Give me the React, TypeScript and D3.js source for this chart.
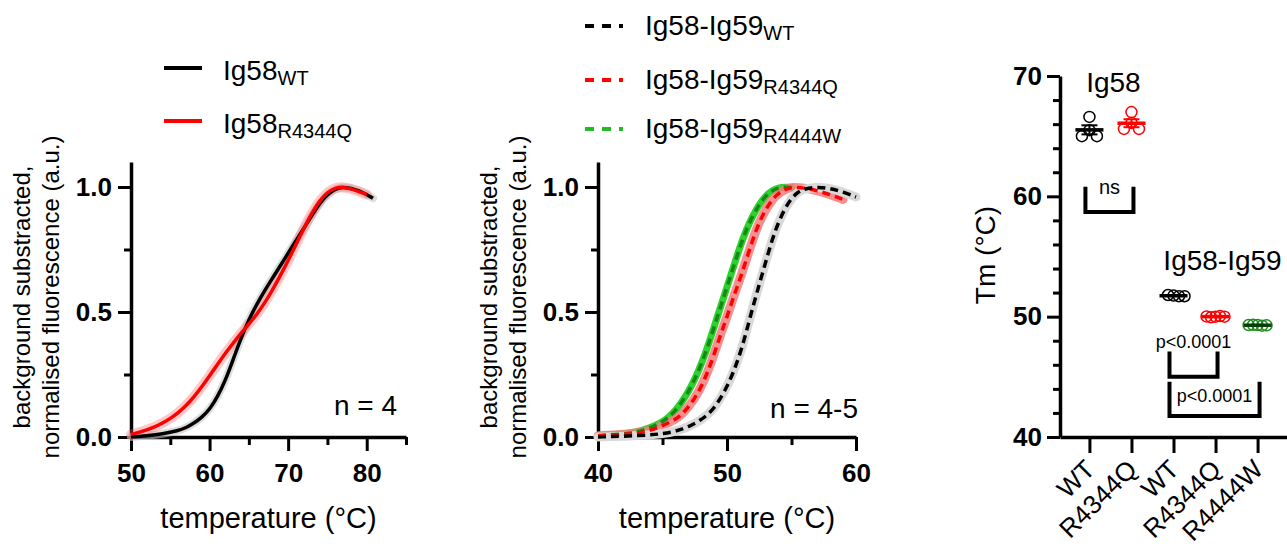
import React, { useRef, useEffect } from 'react';
import * as d3 from 'd3';

const FONT = '"Liberation Sans", Arial, Helvetica, sans-serif';

// Ig58 melt curves (left panel)
const ig58WtTemp = [50, 52, 54, 56, 57, 58, 59, 60, 61, 62, 63, 64, 65, 66, 67, 68, 69, 70, 71, 72, 73, 74, 75, 76, 77, 78, 79, 80, 80.8];
const ig58WtSignal = [0, 0.005, 0.012, 0.025, 0.037, 0.055, 0.078, 0.11, 0.16, 0.225, 0.31, 0.395, 0.47, 0.53, 0.585, 0.635, 0.685, 0.735, 0.785, 0.835, 0.885, 0.935, 0.97, 0.993, 1.0, 0.995, 0.985, 0.97, 0.955];
const ig58MutTemp = [50, 51, 52, 53, 54, 55, 56, 57, 58, 59, 60, 61, 62, 63, 64, 65, 66, 67, 68, 69, 70, 71, 72, 73, 74, 75, 76, 77, 78, 79, 80];
const ig58MutSignal = [0.01, 0.018, 0.028, 0.04, 0.055, 0.074, 0.097, 0.125, 0.16, 0.2, 0.245, 0.29, 0.335, 0.375, 0.415, 0.452, 0.49, 0.535, 0.588, 0.645, 0.705, 0.77, 0.835, 0.895, 0.945, 0.98, 0.997, 1.0, 0.993, 0.982, 0.97];

// Ig58-Ig59 melt curves (middle panel)
const tandemWtTemp = [40, 42, 44, 45, 46, 47, 48, 49, 50, 50.5, 51, 51.5, 52, 52.5, 53, 53.5, 54, 54.5, 55, 55.5, 56, 57, 58, 59, 60];
const tandemWtSignal = [0, 0.003, 0.008, 0.013, 0.022, 0.04, 0.068, 0.11, 0.2, 0.26, 0.33, 0.42, 0.52, 0.61, 0.7, 0.79, 0.86, 0.915, 0.955, 0.98, 0.993, 1.0, 0.995, 0.98, 0.96];
const tandemRqTemp = [40, 42, 43, 44, 45, 46, 46.5, 47, 47.5, 48, 48.5, 49, 49.5, 50, 50.5, 51, 51.5, 52, 52.5, 53, 53.5, 54, 54.5, 55, 56, 57, 58, 59];
const tandemRqSignal = [0.005, 0.01, 0.015, 0.025, 0.045, 0.07, 0.09, 0.12, 0.155, 0.2, 0.26, 0.33, 0.41, 0.48, 0.56, 0.63, 0.71, 0.79, 0.86, 0.91, 0.95, 0.975, 0.99, 1.0, 0.997, 0.985, 0.97, 0.95];
const tandemRwTemp = [40, 42, 43, 44, 45, 45.5, 46, 46.5, 47, 47.5, 48, 48.5, 49, 49.5, 50, 50.5, 51, 51.5, 52, 52.5, 53, 53.5, 54, 54.5, 55];
const tandemRwSignal = [0.005, 0.012, 0.02, 0.035, 0.06, 0.08, 0.105, 0.14, 0.18, 0.23, 0.29, 0.36, 0.44, 0.52, 0.6, 0.68, 0.76, 0.83, 0.885, 0.93, 0.965, 0.985, 0.997, 1.0, 0.998];

// Tm scatter (right panel)
const tmLabels = ['WT', 'R4344Q', 'WT', 'R4344Q', 'R4444W'];
const tmValues = [
  [65.5, 66.6, 65.0, 65.0],
  [66.1, 67.0, 65.6, 65.6],
  [51.75, 51.7, 51.8, 51.7],
  [50.0, 50.05, 49.95, 50.0, 50.02],
  [49.3, 49.25, 49.32, 49.28, 49.3],
];
const bracketPairs = [[0, 1], [2, 3], [2, 4]];
const bracketTop = [60.8, 47.1, 44.6];
const bracketBottom = [58.7, 45.0, 41.75];
const bracketText = ['ns', 'p<0.0001', 'p<0.0001'];
const bracketTextY = [60.2, 47.4, 42.9];

const tmColors = ['#000000', '#ff0000', '#000000', '#ff0000', '#1e8c1e'];
const tmMeanColors = ['#000000', '#ff0000', '#000000', '#ff0000', '#0a3d0a'];
const tmSwarmGap = [9.5, 9.5, 5.5, 4.3, 4.3];

function styleAxis(g: any, bold = true) {
  g.attr('font-family', FONT).attr('font-size', 26);
  g.select('.domain').attr('stroke', '#000').attr('stroke-width', 3.5);
  g.selectAll('.tick line').attr('stroke', '#000').attr('stroke-width', 3);
  g.selectAll('.tick text')
    .attr('fill', '#000')
    .attr('font-weight', bold ? 'bold' : 'normal');
}

function subLabel(parent: any, x: number, y: number, main: string, sub: string) {
  const t = parent.append('text').attr('x', x).attr('y', y).attr('font-size', 28).attr('fill', '#000');
  t.append('tspan').text(main);
  t.append('tspan').attr('font-size', 20).attr('dy', 5).text(sub);
}

function swarm(vals: number[], y: any, gap: number) {
  const placed: { x: number; y: number }[] = [];
  return vals.map((v) => {
    const py = y(v);
    let off = 0;
    for (let k = 0; k < 400; k++) {
      const cand = (k % 2 === 1 ? 1 : -1) * Math.ceil(k / 2) * 0.5;
      if (placed.every((p) => Math.hypot(p.x - cand, p.y - py) >= gap)) { off = cand; break; }
    }
    placed.push({ x: off, y: py });
    return { v, off, py };
  });
}

export default function App() {
  const svgRef = useRef<SVGSVGElement>(null);

  useEffect(() => {
    if (!svgRef.current) return;
    const svg = d3.select(svgRef.current);
    svg.selectAll('*').remove();
    svg.attr('font-family', FONT);

    const ySig = d3.scaleLinear().domain([0, 1.1]).range([437, 162]);

    const panels = [
      {
        x0: 131, x1: 406, domain: [50, 85], major: [50, 60, 70, 80], minor: [55, 65, 75, 85],
        dashed: false, n: 'n = 4', nY: 415, nX: 397,
        series: [
          { temp: ig58WtTemp, signal: ig58WtSignal, color: '#000000', band: '#c8c8c8', bandOpacity: 0.6, bandWidth: 8 },
          { temp: ig58MutTemp, signal: ig58MutSignal, color: '#ff0000', band: '#ff6060', bandOpacity: 0.35, bandWidth: 10 },
        ],
      },
      {
        x0: 598, x1: 856, domain: [40, 60], major: [40, 50, 60], minor: [45, 55],
        dashed: true, n: 'n = 4-5', nY: 418, nX: 858,
        series: [
          { temp: tandemRwTemp, signal: tandemRwSignal, color: '#138a13', band: '#2fd12f', bandOpacity: 1, bandWidth: 7 },
          { temp: tandemRqTemp, signal: tandemRqSignal, color: '#ff0000', band: '#f47c7c', bandOpacity: 0.85, bandWidth: 9 },
          { temp: tandemWtTemp, signal: tandemWtSignal, color: '#000000', band: '#d9d9d9', bandOpacity: 1, bandWidth: 9 },
        ],
      },
    ];

    panels.forEach((p) => {
      const x = d3.scaleLinear().domain(p.domain).range([p.x0, p.x1]);

      const yAxis = svg.append('g').attr('transform', `translate(${p.x0},0)`)
        .call(d3.axisLeft(ySig).tickValues([0, 0.5, 1]).tickSize(13).tickSizeOuter(0).tickPadding(6).tickFormat(d3.format('.1f')));
      styleAxis(yAxis);
      const yMinor = svg.append('g').attr('transform', `translate(${p.x0},0)`)
        .call(d3.axisLeft(ySig).tickValues([0.25, 0.75]).tickSize(7).tickFormat(() => ''));
      yMinor.select('.domain').remove();
      styleAxis(yMinor);

      const xAxis = svg.append('g').attr('transform', 'translate(0,437)')
        .call(d3.axisBottom(x).tickValues(p.major).tickSize(14).tickSizeOuter(0).tickPadding(13).tickFormat(d3.format('d')));
      styleAxis(xAxis);
      const xMinor = svg.append('g').attr('transform', 'translate(0,437)')
        .call(d3.axisBottom(x).tickValues(p.minor).tickSize(8).tickFormat(() => ''));
      xMinor.select('.domain').remove();
      styleAxis(xMinor);

      const curve = d3.line<[number, number]>()
        .x((d) => x(d[0]))
        .y((d) => ySig(d[1]))
        .curve(d3.curveBasis);

      // shaded error bands first, mean curves on top
      p.series.forEach((s) => {
        const pts = s.temp.map((t, i) => [t, s.signal[i]] as [number, number]);
        svg.append('path').datum(pts)
          .attr('fill', 'none').attr('stroke', s.band).attr('stroke-opacity', s.bandOpacity)
          .attr('stroke-width', s.bandWidth).attr('stroke-linecap', 'round').attr('d', curve);
      });
      p.series.forEach((s) => {
        const pts = s.temp.map((t, i) => [t, s.signal[i]] as [number, number]);
        svg.append('path').datum(pts)
          .attr('fill', 'none').attr('stroke', s.color).attr('stroke-width', 3.5)
          .attr('stroke-dasharray', p.dashed ? '8 5' : null)
          .attr('d', curve);
      });

      svg.append('text').attr('x', p.nX).attr('y', p.nY).attr('text-anchor', 'end')
        .attr('font-size', 28).attr('fill', '#000').text(p.n);

      const yTitle = svg.append('text')
        .attr('transform', `translate(${p.x0 - 101},297) rotate(-90)`)
        .attr('text-anchor', 'middle').attr('font-size', 24).attr('fill', '#000');
      yTitle.append('tspan').attr('x', 0).attr('dy', 0).text('background substracted,');
      yTitle.append('tspan').attr('x', 0).attr('dy', 29).text('normalised fluorescence (a.u.)');

      svg.append('text').attr('x', (p.x0 + p.x1) / 2).attr('y', 528).attr('text-anchor', 'middle')
        .attr('font-size', 29).attr('fill', '#000').text('temperature (°C)');
    });

    // legends
    [{ y: 68, color: '#000000', sub: 'WT' }, { y: 121, color: '#ff0000', sub: 'R4344Q' }].forEach((d) => {
      svg.append('line').attr('x1', 164).attr('x2', 202).attr('y1', d.y).attr('y2', d.y)
        .attr('stroke', d.color).attr('stroke-width', 4);
      subLabel(svg, 223, d.y + 12, 'Ig58', d.sub);
    });
    [{ y: 26, color: '#000000', sub: 'WT' }, { y: 80, color: '#ff0000', sub: 'R4344Q' }, { y: 129, color: '#22bb22', sub: 'R4444W' }].forEach((d) => {
      svg.append('line').attr('x1', 585).attr('x2', 623).attr('y1', d.y).attr('y2', d.y)
        .attr('stroke', d.color).attr('stroke-width', 4).attr('stroke-dasharray', '9 8');
      subLabel(svg, 645, d.y + 9, 'Ig58-Ig59', d.sub);
    });

    // Tm panel
    const tmY = d3.scaleLinear().domain([40, 70]).range([437, 76]);
    const tmX = d3.scalePoint<string>().domain(tmLabels.map((_, i) => String(i))).range([1060, 1287]).padding(0.7);
    const cx = (i: number) => tmX(String(i)) as number;

    const tmYAxis = svg.append('g').attr('transform', 'translate(1060,0)')
      .call(d3.axisLeft(tmY).tickValues([40, 50, 60, 70]).tickSize(13).tickSizeOuter(0).tickPadding(5));
    styleAxis(tmYAxis);
    const tmYMinor = svg.append('g').attr('transform', 'translate(1060,0)')
      .call(d3.axisLeft(tmY).tickValues(d3.range(42, 70, 2).filter((v) => v % 10 !== 0)).tickSize(7).tickFormat(() => ''));
    tmYMinor.select('.domain').remove();
    styleAxis(tmYMinor);

    const tmXAxis = svg.append('g').attr('transform', 'translate(0,437)')
      .call(d3.axisBottom(tmX).tickSize(16).tickSizeOuter(0).tickFormat(() => ''));
    styleAxis(tmXAxis);

    tmLabels.forEach((lab, i) => {
      svg.append('text')
        .attr('transform', `translate(${cx(i) + 7},471) rotate(-45)`)
        .attr('text-anchor', 'end').attr('font-size', 26).attr('fill', '#000').text(lab);
    });

    svg.append('text').attr('transform', 'translate(995,255) rotate(-90)')
      .attr('text-anchor', 'middle').attr('font-size', 28).attr('fill', '#000').text('Tm (°C)');

    svg.append('text').attr('x', (cx(0) + cx(1)) / 2 + 3).attr('y', tmY(68.7)).attr('text-anchor', 'middle')
      .attr('font-size', 28).attr('fill', '#000').text('Ig58');
    svg.append('text').attr('x', (cx(2) + cx(4)) / 2 + 7).attr('y', tmY(53.9)).attr('text-anchor', 'middle')
      .attr('font-size', 28).attr('fill', '#000').text('Ig58-Ig59');

    tmValues.forEach((vals, i) => {
      const pts = swarm(vals, tmY, tmSwarmGap[i]);
      pts.forEach((p) => {
        svg.append('circle').attr('cx', cx(i) + p.off).attr('cy', p.py).attr('r', 5.5)
          .attr('fill', 'none').attr('stroke', tmColors[i]).attr('stroke-width', 1.5);
      });
      const mean = d3.mean(vals) as number;
      const sem = (d3.deviation(vals) as number) / Math.sqrt(vals.length);
      const c = tmMeanColors[i];
      svg.append('line').attr('x1', cx(i)).attr('x2', cx(i)).attr('y1', tmY(mean - sem)).attr('y2', tmY(mean + sem))
        .attr('stroke', c).attr('stroke-width', 2);
      [mean - sem, mean + sem].forEach((v) => {
        svg.append('line').attr('x1', cx(i) - 8).attr('x2', cx(i) + 8).attr('y1', tmY(v)).attr('y2', tmY(v))
          .attr('stroke', c).attr('stroke-width', 2);
      });
      svg.append('line').attr('x1', cx(i) - 14).attr('x2', cx(i) + 14).attr('y1', tmY(mean)).attr('y2', tmY(mean))
        .attr('stroke', c).attr('stroke-width', 3.5);
    });

    bracketPairs.forEach(([a, b], k) => {
      const xa = cx(a) - 4;
      const xb = cx(b) + 2;
      svg.append('path')
        .attr('d', `M${xa},${tmY(bracketTop[k])}V${tmY(bracketBottom[k])}H${xb}V${tmY(bracketTop[k])}`)
        .attr('fill', 'none').attr('stroke', '#000').attr('stroke-width', 4);
      svg.append('text').attr('x', (xa + xb) / 2).attr('y', tmY(bracketTextY[k])).attr('text-anchor', 'middle')
        .attr('font-size', k === 0 ? 20 : 18).attr('fill', '#000').text(bracketText[k]);
    });
  }, []);

  return (
    <svg
      ref={svgRef}
      width={1287}
      height={546}
      style={{ position: 'absolute', left: 0, top: 0, background: '#fff' }}
    />
  );
}
